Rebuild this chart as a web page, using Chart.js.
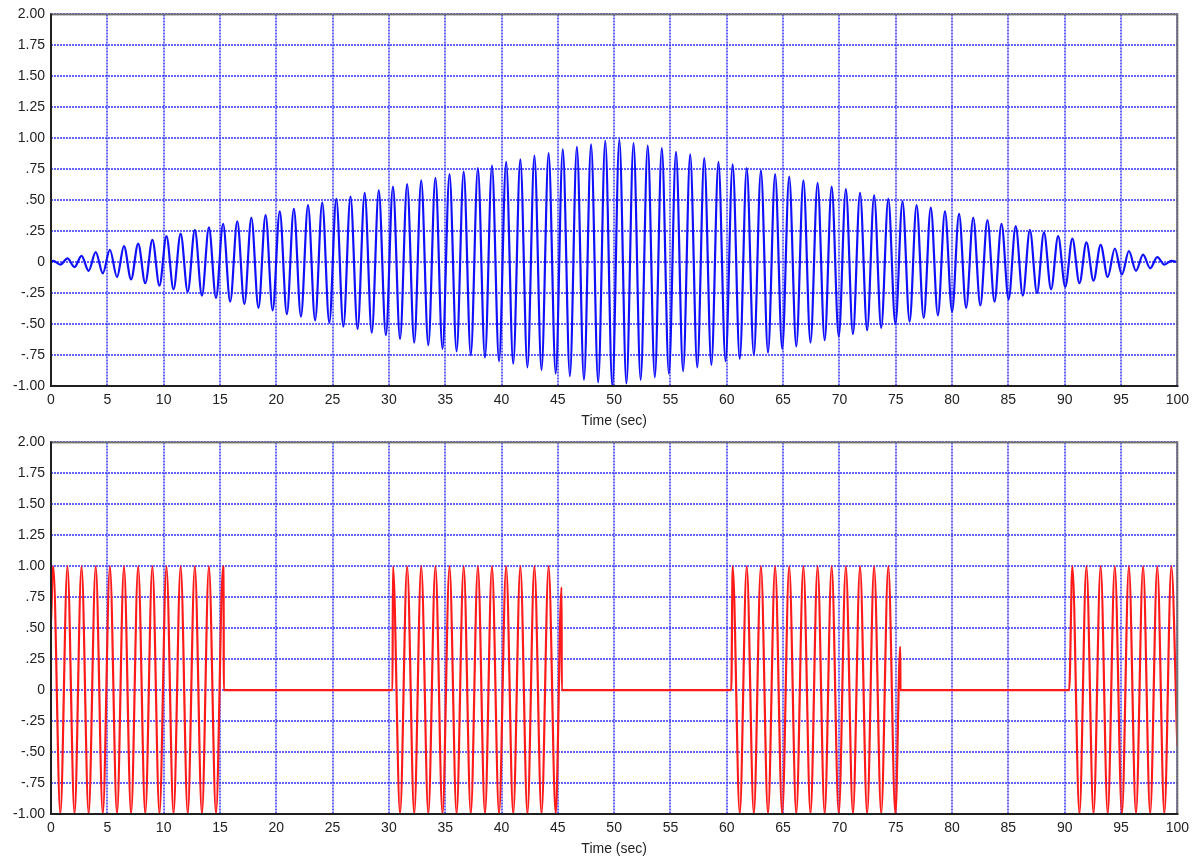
<!DOCTYPE html>
<html>
<head>
<meta charset="utf-8">
<script src="https://cdn.jsdelivr.net/npm/chart.js@4.4.1/dist/chart.umd.min.js"></script>
<style>
    body { margin: 0; background: #fff; }
    .box { position: absolute; left: 0; width: 1195px; height: 430px; }
    #topBox { top: 0; }
    #bottomBox { top: 428px; }
</style>
</head>
<body>
<div class="box" id="topBox"><canvas id="chartTop"></canvas></div>
<div class="box" id="bottomBox"><canvas id="chartBottom"></canvas></div>
<script>
// axis labels
const yTickLabels = ['-1.00', '-.75', '-.50', '-.25', '0', '.25', '.50', '.75', '1.00', '1.25', '1.50', '1.75', '2.00'];
const xTitle = 'Time (sec)';

// top panel: peaks and troughs of the modulated wave
const peakTimes = [0.20, 1.46, 2.71, 3.97, 5.23, 6.48, 7.74, 9.00, 10.25, 11.51, 12.77, 14.02, 15.28, 16.54, 17.79, 19.05,
    20.31, 21.56, 22.82, 24.08, 25.33, 26.59, 27.85, 29.10, 30.36, 31.62, 32.87, 34.13, 35.38, 36.64, 37.90, 39.15,
    40.41, 41.67, 42.92, 44.18, 45.44, 46.69, 47.95, 49.21, 50.46, 51.72, 52.98, 54.23, 55.49, 56.75, 58.00, 59.26,
    60.52, 61.77, 63.03, 64.29, 65.54, 66.80, 68.06, 69.31, 70.57, 71.83, 73.08, 74.34, 75.60, 76.85, 78.11, 79.37,
    80.62, 81.88, 83.14, 84.39, 85.65, 86.91, 88.16, 89.42, 90.68, 91.93, 93.19, 94.45, 95.70, 96.96, 98.22, 99.47];
const bluePeaks = [0.01, 0.03, 0.05, 0.08, 0.10, 0.13, 0.15, 0.18, 0.21, 0.23, 0.26, 0.28, 0.31, 0.33, 0.36, 0.38,
    0.41, 0.43, 0.46, 0.48, 0.51, 0.53, 0.56, 0.58, 0.61, 0.63, 0.66, 0.68, 0.71, 0.73, 0.76, 0.78,
    0.81, 0.83, 0.86, 0.88, 0.91, 0.93, 0.95, 0.98, 0.99, 0.96, 0.94, 0.92, 0.89, 0.87, 0.84, 0.81,
    0.79, 0.76, 0.74, 0.71, 0.69, 0.66, 0.64, 0.61, 0.59, 0.56, 0.54, 0.51, 0.49, 0.46, 0.44, 0.41,
    0.39, 0.36, 0.34, 0.31, 0.29, 0.26, 0.24, 0.21, 0.19, 0.16, 0.14, 0.11, 0.09, 0.06, 0.04, 0.01];
const troughTimes = [0.83, 2.09, 3.34, 4.60, 5.86, 7.11, 8.37, 9.63, 10.88, 12.14, 13.40, 14.65, 15.91, 17.17, 18.42, 19.68,
    20.94, 22.19, 23.45, 24.71, 25.96, 27.22, 28.48, 29.73, 30.99, 32.25, 33.50, 34.76, 36.01, 37.27, 38.53, 39.78,
    41.04, 42.30, 43.55, 44.81, 46.07, 47.32, 48.58, 49.84, 51.09, 52.35, 53.61, 54.86, 56.12, 57.38, 58.63, 59.89,
    61.15, 62.40, 63.66, 64.92, 66.17, 67.43, 68.69, 69.94, 71.20, 72.46, 73.71, 74.97, 76.23, 77.48, 78.74, 80.00,
    81.25, 82.51, 83.77, 85.02, 86.28, 87.54, 88.79, 90.05, 91.31, 92.56, 93.82, 95.08, 96.33, 97.59, 98.85];
const blueTroughs = [-0.02, -0.04, -0.07, -0.09, -0.12, -0.14, -0.17, -0.19, -0.22, -0.24, -0.27, -0.29, -0.32, -0.34, -0.37, -0.39,
    -0.42, -0.44, -0.47, -0.49, -0.52, -0.54, -0.57, -0.59, -0.62, -0.65, -0.67, -0.70, -0.72, -0.75, -0.77, -0.80,
    -0.82, -0.85, -0.87, -0.90, -0.92, -0.95, -0.97, -1.00, -0.98, -0.95, -0.93, -0.90, -0.88, -0.85, -0.83, -0.80,
    -0.78, -0.75, -0.73, -0.70, -0.68, -0.65, -0.63, -0.60, -0.58, -0.55, -0.53, -0.50, -0.48, -0.45, -0.43, -0.40,
    -0.37, -0.35, -0.32, -0.30, -0.27, -0.25, -0.22, -0.20, -0.17, -0.15, -0.12, -0.10, -0.07, -0.05, -0.02];

// bottom panel: gated wave, bursts with flat zero in between
const redTimes = [
    0, 0.20, 0.83, 1.46, 2.09, 2.71, 3.34, 3.97, 4.60, 5.23, 5.86, 6.48, 7.11, 7.74, 8.37, 9.00, 9.63,
    10.25, 10.88, 11.51, 12.14, 12.77, 13.40, 14.02, 14.65, 15.28, 15.33, 15.34,
    30.32, 30.36, 30.99, 31.62, 32.25, 32.87, 33.50, 34.13, 34.76, 35.38, 36.01, 36.64, 37.27, 37.90,
    38.53, 39.15, 39.78, 40.41, 41.04, 41.67, 42.30, 42.92, 43.55, 44.18, 44.81, 45.33, 45.35,
    60.40, 60.52, 61.15, 61.77, 62.40, 63.03, 63.66, 64.29, 64.92, 65.54, 66.17, 66.80, 67.43, 68.06,
    68.69, 69.31, 69.94, 70.57, 71.20, 71.83, 72.46, 73.08, 73.71, 74.34, 74.97, 75.40, 75.42,
    90.40, 90.68, 91.31, 91.93, 92.56, 93.19, 93.82, 94.45, 95.08, 95.70, 96.33, 96.96, 97.59, 98.22,
    98.85, 99.47, 100];
const redValues = [
    0.55, 1, -1, 1, -1, 1, -1, 1, -1, 1, -1, 1, -1, 1, -1, 1, -1,
    1, -1, 1, -1, 1, -1, 1, -1, 1, 0.63, 0,
    0, 1, -1, 1, -1, 1, -1, 1, -1, 1, -1, 1, -1, 1,
    -1, 1, -1, 1, -1, 1, -1, 1, -1, 1, -1, 0.83, 0,
    0, 1, -1, 1, -1, 1, -1, 1, -1, 1, -1, 1, -1, 1,
    -1, 1, -1, 1, -1, 1, -1, 1, -1, 1, -1, 0.35, 0,
    0, 1, -1, 1, -1, 1, -1, 1, -1, 1, -1, 1, -1, 1,
    -1, 1, -0.45];

// build point lists
var bluePoints = [{ x: 0, y: 0 }];
for (var i = 0; i < peakTimes.length; i++) {
    bluePoints.push({ x: peakTimes[i], y: bluePeaks[i] });
    if (i < troughTimes.length) bluePoints.push({ x: troughTimes[i], y: blueTroughs[i] });
}
bluePoints.push({ x: 100, y: 0 });

var redPoints = redTimes.map(function (t, i) { return { x: t, y: redValues[i] }; });

const tickFont = { family: "'Liberation Sans', Arial, sans-serif", size: 14 };
const gridColor = 'rgba(60, 60, 255, 0.8)';

// box around the plot area
const framePlugin = {
    id: 'frame',
    afterDraw(chart) {
        const a = chart.chartArea;
        const c = chart.ctx;
        c.save();
        c.lineWidth = 2;
        c.strokeStyle = '#707070';
        c.strokeRect(a.left, a.top, a.right - a.left, a.bottom - a.top);
        c.strokeStyle = '#202020';
        c.beginPath();
        c.moveTo(a.left, a.top - 1);
        c.lineTo(a.left, a.bottom);
        c.lineTo(a.right + 1, a.bottom);
        c.stroke();
        c.restore();
    }
};

function makeConfig(points, color) {
    return {
        type: 'line',
        data: {
            datasets: [{
                data: points,
                borderColor: color,
                borderWidth: 2.2,
                pointRadius: 0,
                cubicInterpolationMode: 'monotone',
                fill: false
            }]
        },
        options: {
            responsive: true,
            maintainAspectRatio: false,
            animation: false,
            layout: { padding: { top: 12, right: 15, left: 0, bottom: 0 } },
            plugins: { legend: { display: false }, tooltip: { enabled: false } },
            scales: {
                x: {
                    type: 'linear',
                    min: 0,
                    max: 100,
                    ticks: { stepSize: 5, padding: 6, color: '#222', font: tickFont, maxRotation: 0, autoSkip: false },
                    grid: { color: gridColor, lineWidth: 2, drawTicks: false },
                    border: { display: false, dash: [2, 1] },
                    title: { display: true, text: xTitle, color: '#222', font: tickFont, padding: { top: 0, bottom: 0 } },
                    afterFit: function (scale) { scale.height = 44; }
                },
                y: {
                    type: 'linear',
                    min: -1,
                    max: 2,
                    ticks: {
                        stepSize: 0.25,
                        padding: 6,
                        autoSkip: false,
                        color: '#222',
                        font: tickFont,
                        callback: function (value, index) { return yTickLabels[index]; }
                    },
                    grid: { color: gridColor, lineWidth: 2, drawTicks: false },
                    border: { display: false, dash: [2, 1] },
                    afterFit: function (scale) { scale.width = 51; }
                }
            }
        },
        plugins: [framePlugin]
    };
}

new Chart(document.getElementById('chartTop').getContext('2d'), makeConfig(bluePoints, '#1010ff'));
new Chart(document.getElementById('chartBottom').getContext('2d'), makeConfig(redPoints, '#ff1a1a'));
</script>
</body>
</html>
